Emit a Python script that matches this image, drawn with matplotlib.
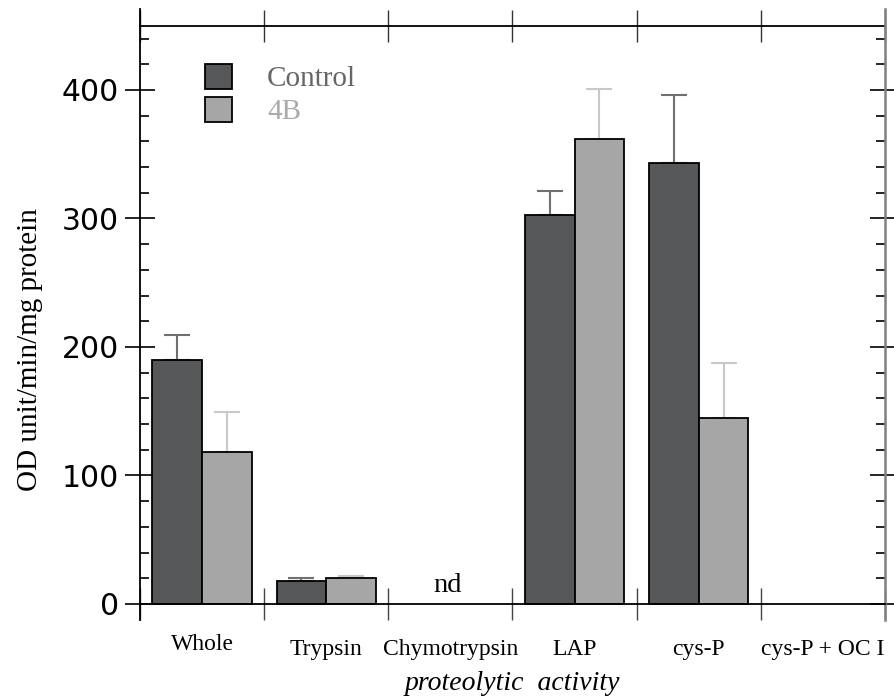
import numpy as np
import matplotlib
matplotlib.use("Agg")
import matplotlib.pyplot as plt
from matplotlib.ticker import FixedLocator
from matplotlib.transforms import ScaledTranslation

categories = ["Whole", "Trypsin", "Chymotrypsin", "LAP", "cys-P", "cys-P + OC I"]
control = [190, 18, np.nan, 303, 343, np.nan]
control_err = [19, 2, np.nan, 18.5, 53, np.nan]
treat = [118, 20, np.nan, 362, 145, np.nan]
treat_err = [31, 1.5, np.nan, 38.5, 42.5, np.nan]
series_names = ["Control", "4B"]
yticks = [0, 100, 200, 300, 400]
yminor = [v for v in range(20, 450, 20) if v % 100 != 0]

serif = "Liberation Serif"
c_dark = "#565759"
c_light = "#a6a6a6"

fig = plt.figure(figsize=(8.95, 7), dpi=100)
ax = fig.add_axes([140/895, 1-620/700, 745/895, 611/700])

x = np.arange(len(categories)) + 0.5
w = 0.4
ax.bar(x - w/2, control, width=w, color=c_dark, edgecolor="black", linewidth=1.3, label=series_names[0], zorder=2)
ax.bar(x + w/2, treat, width=w, color=c_light, edgecolor="black", linewidth=1.3, label=series_names[1], zorder=2)
z = np.zeros(len(categories))
ax.errorbar(x - w/2, control, yerr=[z, control_err], fmt="none", ecolor="#707070",
            elinewidth=1.5, capsize=9.5, capthick=1.5, zorder=1)
ax.errorbar(x + w/2, treat, yerr=[z, treat_err], fmt="none", ecolor="#c8c8c8",
            elinewidth=1.5, capsize=9.5, capthick=1.5, zorder=1)

ax.text(2.48, 14, "nd", ha="center", va="center", fontsize=20.5, family=serif)

ax.set_xlim(0, len(categories))
ax.set_ylim(-12.5, 463)

# spines
ax.spines["top"].set_visible(False)
ax.spines["bottom"].set_position(("data", 0))
ax.spines["bottom"].set_linewidth(1.3)
ax.spines["left"].set_linewidth(1.3)
ax.spines["right"].set_color("#808080")
ax.spines["right"].set_linewidth(1.8)

# y ticks
ax.yaxis.set_major_locator(FixedLocator(yticks))
ax.yaxis.set_minor_locator(FixedLocator(yminor))
ax.set_yticklabels([str(v) for v in yticks], fontsize=21.5, family="DejaVu Sans")
ax.tick_params(axis="y", which="major", direction="inout", length=22, width=1.2,
               left=True, right=True, pad=4, colors="black")
ax.tick_params(axis="y", which="minor", direction="in", length=6.5, width=1.2,
               left=True, right=True)
for t in ax.yaxis.get_major_ticks():
    t.tick2line.set_color("#808080")

# x ticks: boundaries as major (no labels), centers as minor (labels)
ax.xaxis.set_major_locator(FixedLocator(np.arange(0, len(categories) + 1)))
ax.xaxis.set_minor_locator(FixedLocator(x))
ax.set_xticklabels([], minor=False)
ax.set_xticklabels(categories, minor=True, fontsize=17, family=serif)
ax.tick_params(axis="x", which="major", direction="inout", length=23, width=1.0,
               color="#444444", bottom=True, top=False)
ax.tick_params(axis="x", which="minor", length=0, pad=25)
whole_lab = ax.xaxis.get_minor_ticks()[0].label1
whole_lab.set_transform(whole_lab.get_transform() + ScaledTranslation(0, 5/100, fig.dpi_scale_trans))

# top line at 450 with crossing ticks
top_frac = (450 + 12.5) / (463 + 12.5)
sec = ax.secondary_xaxis(top_frac)
sec.set_xticks(np.arange(0, len(categories) + 1))
sec.set_xticklabels([])
sec.tick_params(direction="inout", length=23, width=1.0, color="#333333")
sec.spines["top"].set_linewidth(1.3)

ax.set_ylabel("OD unit/min/mg protein", fontsize=21, family=serif)
ax.yaxis.label.set_va("center")
ax.yaxis.set_label_coords((30 - 140) / 745, 0.442)
ax.set_xlabel("proteolytic  activity", fontsize=20, family=serif, style="italic")
ax.xaxis.label.set_va("center")
ax.xaxis.set_label_coords(0.5, (620 - 684) / 611)

leg = ax.legend(loc="upper left", bbox_to_anchor=((205 - 140) / 745, (620 - 64) / 611),
                frameon=False, prop={"family": serif, "size": 21},
                handlelength=0.93, handleheight=0.93, handletextpad=1.2,
                labelspacing=0.15, borderpad=0, borderaxespad=0,
                labelcolor=["#666666", "#aaaaaa"])

fig.savefig("out.png", dpi=100)
